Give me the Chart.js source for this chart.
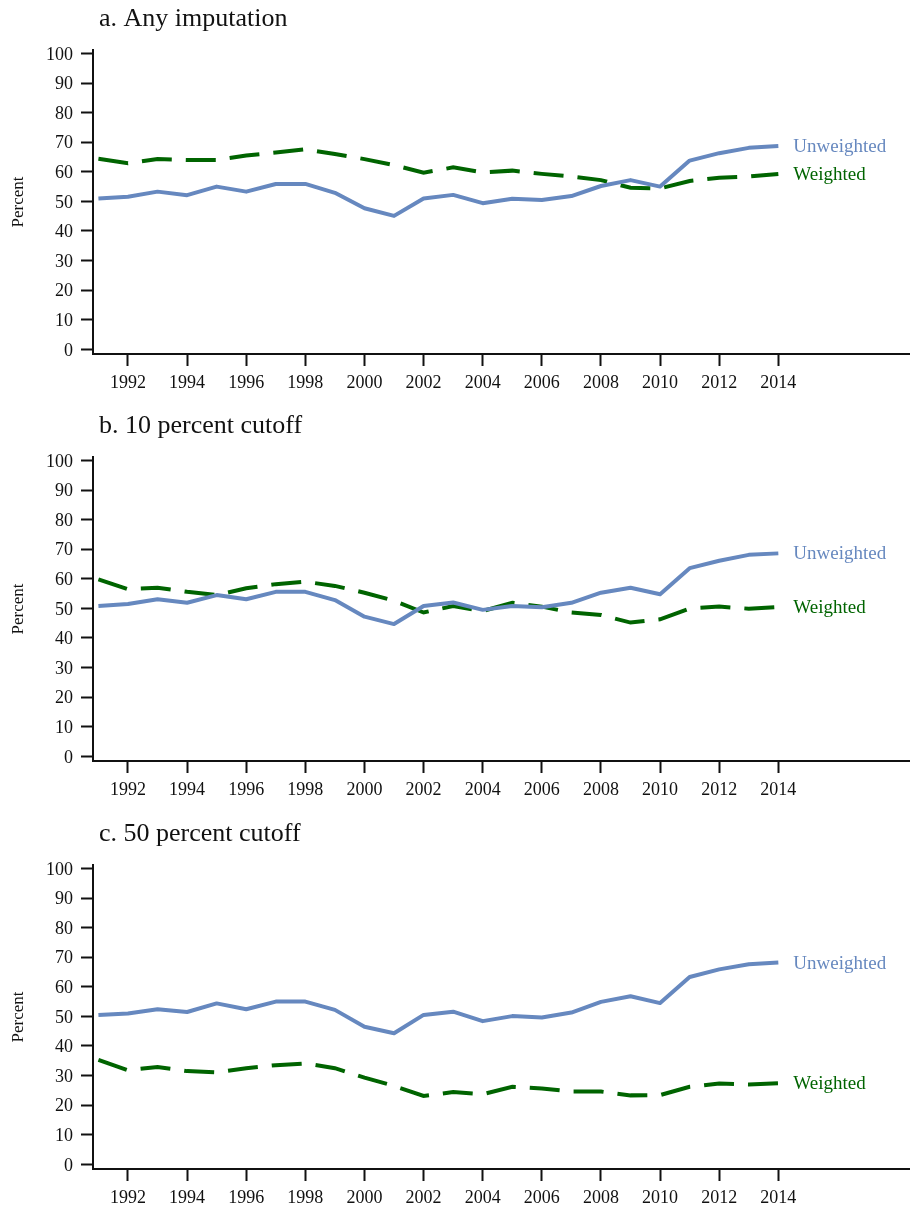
<!DOCTYPE html>
<html>
<head>
<meta charset="utf-8">
<script src="https://cdn.jsdelivr.net/npm/chart.js@4.4.1/dist/chart.umd.min.js"></script>
<style>
  html, body { margin: 0; padding: 0; background: #fff; }
  #wrap { position: relative; width: 910px; height: 1209px; }
  .panel { position: absolute; left: 0; width: 910px; height: 407px; }
</style>
</head>
<body>
<div id="wrap">
  <div class="panel" style="top:0px"><canvas id="panelA" width="910" height="407"></canvas></div>
  <div class="panel" style="top:407px"><canvas id="panelB" width="910" height="407"></canvas></div>
  <div class="panel" style="top:815px"><canvas id="panelC" width="910" height="407"></canvas></div>
</div>
<script>
// Survey years
const years = [1991, 1992, 1993, 1994, 1995, 1996, 1997, 1998, 1999, 2000, 2001, 2002,
               2003, 2004, 2005, 2006, 2007, 2008, 2009, 2010, 2011, 2012, 2013, 2014];

// Labelled x ticks (even years)
const yearTicks = [1992, 1994, 1996, 1998, 2000, 2002, 2004, 2006, 2008, 2010, 2012, 2014];
// y ticks (percent)
const percentTicks = [0, 10, 20, 30, 40, 50, 60, 70, 80, 90, 100];

// a. Any imputation
const unweightedAny = [51.0, 51.6, 53.3, 52.1, 55.0, 53.3, 55.9, 55.9, 52.9, 47.7, 45.1, 51.0,
                       52.2, 49.4, 50.9, 50.5, 51.8, 55.2, 57.2, 55.0, 63.8, 66.3, 68.1, 68.7];
const weightedAny   = [64.4, 62.9, 64.3, 64.0, 64.0, 65.5, 66.5, 67.6, 66.0, 64.3, 62.3, 59.7,
                       61.5, 59.8, 60.4, 59.3, 58.4, 57.2, 54.6, 54.4, 56.9, 58.0, 58.4, 59.3];

// b. 10 percent cutoff
const unweighted10  = [50.8, 51.5, 53.1, 51.9, 54.5, 53.1, 55.6, 55.6, 52.8, 47.2, 44.7, 50.8,
                       52.0, 49.5, 50.8, 50.4, 51.9, 55.3, 57.0, 54.8, 63.6, 66.1, 68.1, 68.6];
const weighted10    = [59.8, 56.5, 57.0, 55.6, 54.5, 56.8, 58.2, 59.0, 57.6, 55.3, 52.6, 48.6,
                       50.8, 49.1, 51.9, 50.6, 48.6, 47.8, 45.2, 46.3, 50.0, 50.6, 49.9, 50.5];

// c. 50 percent cutoff
const unweighted50  = [50.5, 51.0, 52.4, 51.5, 54.4, 52.4, 55.0, 55.0, 52.2, 46.5, 44.3, 50.5,
                       51.6, 48.4, 50.1, 49.6, 51.3, 54.9, 56.8, 54.5, 63.3, 65.9, 67.6, 68.2];
const weighted50    = [35.3, 31.8, 32.9, 31.5, 31.1, 32.5, 33.5, 34.1, 32.5, 29.3, 26.5, 23.1,
                       24.4, 23.7, 26.2, 25.6, 24.6, 24.6, 23.3, 23.4, 26.2, 27.3, 27.0, 27.4];

const SERIF = "'Liberation Serif', 'Times New Roman', 'DejaVu Serif', serif";
const BLUE = '#6688bf';
const GREEN = '#006400';
const INK = '#111111';

Chart.defaults.font.family = SERIF;
Chart.defaults.color = INK;

// Panel heading, drawn above the plot area
const panelTitle = {
  id: 'panelTitle',
  afterDraw(chart, args, opts) {
    const ctx = chart.ctx;
    ctx.save();
    ctx.font = '26px ' + SERIF;
    ctx.fillStyle = INK;
    ctx.textBaseline = 'middle';
    ctx.textAlign = 'left';
    ctx.fillText(opts.text, chart.chartArea.left + 6, 19);
    ctx.restore();
  }
};

// Series names written just right of each line's last point
const endLabels = {
  id: 'endLabels',
  afterDatasetsDraw(chart) {
    const ctx = chart.ctx;
    const xs = chart.scales.x, ys = chart.scales.y;
    chart.data.datasets.forEach(ds => {
      const last = ds.data[ds.data.length - 1];
      ctx.save();
      ctx.font = '19px ' + SERIF;
      ctx.fillStyle = ds.borderColor;
      ctx.textBaseline = 'middle';
      ctx.textAlign = 'left';
      ctx.fillText(ds.label, xs.getPixelForValue(last.x) + 15, ys.getPixelForValue(last.y) + 1);
      ctx.restore();
    });
  }
};

function toPoints(values) {
  return years.map((yr, i) => ({ x: yr, y: values[i] }));
}

function makePanel(canvasId, title, unweighted, weighted) {
  return new Chart(document.getElementById(canvasId), {
    type: 'line',
    data: {
      datasets: [
        {
          label: 'Unweighted',
          data: toPoints(unweighted),
          borderColor: BLUE,
          borderWidth: 4,
          pointRadius: 0,
          tension: 0,
          borderJoinStyle: 'round'
        },
        {
          label: 'Weighted',
          data: toPoints(weighted),
          borderColor: GREEN,
          borderWidth: 4,
          borderDash: [30, 14],
          borderCapStyle: 'butt',
          pointRadius: 0,
          tension: 0,
          borderJoinStyle: 'miter'
        }
      ]
    },
    options: {
      responsive: false,
      animation: false,
      events: [],
      layout: { padding: { top: 50, left: 0, right: 1, bottom: 0 } },
      plugins: {
        legend: { display: false },
        tooltip: { enabled: false },
        panelTitle: { text: title }
      },
      scales: {
        x: {
          type: 'linear',
          min: 1990.817,
          max: 2018.42,
          afterBuildTicks(scale) { scale.ticks = yearTicks.map(v => ({ value: v })); },
          afterFit(scale) { scale.height = 53; },
          ticks: {
            font: { size: 18 },
            color: INK,
            padding: 6,
            maxRotation: 0,
            autoSkip: false,
            callback: v => String(v)
          },
          grid: {
            drawOnChartArea: false,
            drawTicks: true,
            tickLength: 12,
            tickWidth: 2,
            tickColor: INK
          },
          border: { display: true, color: INK, width: 2 }
        },
        y: {
          type: 'linear',
          min: -1.59,
          max: 101.18,
          afterBuildTicks(scale) { scale.ticks = percentTicks.map(v => ({ value: v })); },
          afterFit(scale) { scale.width = 93; },
          ticks: {
            font: { size: 18 },
            color: INK,
            padding: 8,
            labelOffset: 1.5,
            autoSkip: false,
            callback: v => String(v)
          },
          grid: {
            drawOnChartArea: false,
            drawTicks: true,
            tickLength: 12,
            tickWidth: 2,
            tickColor: INK
          },
          border: { display: true, color: INK, width: 2 },
          title: {
            display: true,
            text: 'Percent',
            font: { size: 17 },
            color: INK,
            padding: { top: 8, bottom: 0 }
          }
        }
      }
    },
    plugins: [panelTitle, endLabels]
  });
}

makePanel('panelA', 'a. Any imputation', unweightedAny, weightedAny);
makePanel('panelB', 'b. 10 percent cutoff', unweighted10, weighted10);
makePanel('panelC', 'c. 50 percent cutoff', unweighted50, weighted50);
</script>
</body>
</html>
